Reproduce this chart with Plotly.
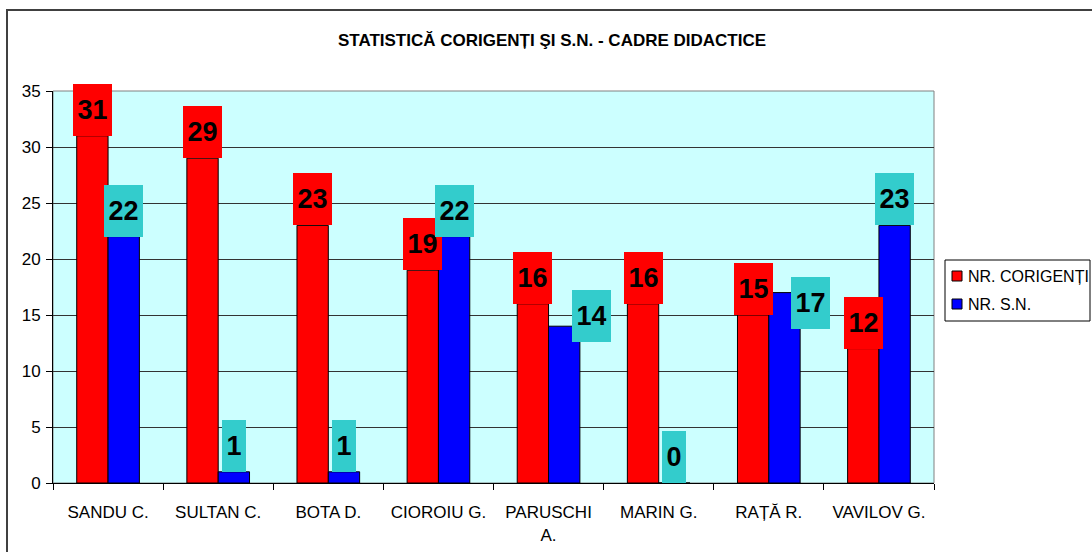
import plotly.graph_objects as go

# ---- data ----
categories = ["SANDU C.", "SULTAN C.", "BOTA D.", "CIOROIU G.", "PARUSCHI<br>A.",
              "MARIN G.", "RAȚĂ R.", "VAVILOV G."]
corigenti = [31, 29, 23, 19, 16, 16, 15, 12]
sn = [22, 1, 1, 22, 14, 0, 17, 23]
series_names = ["NR. CORIGENȚI", "NR. S.N."]
y_ticks = [0, 5, 10, 15, 20, 25, 30, 35]
title_text = "STATISTICĂ CORIGENȚI ŞI S.N. - CADRE DIDACTICE"

# ---- style ----
FONT = "Liberation Sans, Arial, sans-serif"
RED = "#FF0000"
BLUE = "#0000FF"
CYAN_BOX = "#33CCCC"
PLOT_BG = "#CCFFFF"

# label nudges (pixels) where the original chart moved labels to avoid overlap:
# key = (series index, category index) -> (dx, dy)
label_nudge = {(1, 4): (27, -16), (1, 6): (26, -36)}

W, H = 1092, 552
L, R, T, B = 53, W - 934, 91, H - 483
pw, ph = W - L - R, H - T - B


def px2x(px):
    return (px - L) / pw


def px2y(py):
    return (H - B - py) / ph


fig = go.Figure()
fig.add_trace(go.Bar(x=categories, y=corigenti, name=series_names[0],
                     marker=dict(color=RED, line=dict(color="black", width=1)),
                     showlegend=False))
fig.add_trace(go.Bar(x=categories, y=sn, name=series_names[1],
                     marker=dict(color=BLUE, line=dict(color="black", width=1)),
                     showlegend=False))

bargap = 0.431
cat_px = pw / len(categories)
bar_px = cat_px * (1 - bargap) / 2
shift = bar_px / 2

annotations = []
for si, (series, color, sgn) in enumerate(((corigenti, RED, -1), (sn, CYAN_BOX, 1))):
    for ci, (c, v) in enumerate(zip(categories, series)):
        dx, dy = label_nudge.get((si, ci), (0, 0))
        annotations.append(dict(
            x=c, y=v, xref="x", yref="y", text=str(v), showarrow=False,
            xshift=sgn * shift + dx, yshift=dy, yanchor="bottom", xanchor="center",
            font=dict(family=FONT, size=27, color="black", weight="bold"),
            bgcolor=color, borderpad=4.5, borderwidth=0, height=43,
            valign="middle"))

shapes = [
    # outer chart border
    dict(type="rect", xref="paper", yref="paper",
         x0=px2x(7), x1=px2x(1110), y0=px2y(570), y1=px2y(10),
         line=dict(color="#404040", width=2), layer="below"),
    # plot area frame
    dict(type="rect", xref="paper", yref="paper", x0=0, x1=1, y0=0, y1=1,
         line=dict(color="#808080", width=1), layer="below"),
    # legend box
    dict(type="rect", xref="paper", yref="paper",
         x0=px2x(945), x1=px2x(1090), y0=px2y(321), y1=px2y(260),
         line=dict(color="black", width=1), fillcolor="white"),
]
leg_rows = [(series_names[0], RED, 276), (series_names[1], BLUE, 304)]
for name, col, cy in leg_rows:
    shapes.append(dict(type="rect", xref="paper", yref="paper",
                       x0=px2x(952), x1=px2x(962), y0=px2y(cy + 5), y1=px2y(cy - 5),
                       line=dict(color="black", width=1), fillcolor=col))
    annotations.append(dict(x=px2x(966), y=px2y(cy), xref="paper", yref="paper",
                            text=name, showarrow=False, xanchor="left", yanchor="middle",
                            font=dict(family=FONT, size=16, color="black")))

fig.update_layout(
    width=W, height=H,
    margin=dict(l=L, r=R, t=T, b=B, pad=0, autoexpand=False),
    paper_bgcolor="white", plot_bgcolor=PLOT_BG,
    barmode="group", bargap=bargap, bargroupgap=0,
    title=dict(text=title_text, x=552 / W, xanchor="center", y=1 - 40 / H, yanchor="middle",
               font=dict(family=FONT, size=17, color="black", weight="bold")),
    font=dict(family=FONT, size=17, color="black"),
    showlegend=False,
    shapes=shapes,
    annotations=annotations,
)
fig.update_xaxes(
    type="category", showline=True, linecolor="black", linewidth=1,
    ticks="outside", ticklen=6, tickcolor="black", tickson="boundaries",
    tickfont=dict(family=FONT, size=17, color="black"),
    showgrid=False, ticklabelstandoff=14, automargin=False,
)
fig.update_yaxes(
    range=[0, 35], tickvals=y_ticks, showline=True, linecolor="black", linewidth=1,
    ticks="outside", ticklen=6, tickcolor="black",
    tickfont=dict(family=FONT, size=17, color="black"),
    showgrid=True, gridcolor="#333333", gridwidth=1, zeroline=False,
    ticklabelstandoff=2, automargin=False,
)

fig.write_html("out.html", config={"displayModeBar": False},
               post_script="document.body.style.margin='0';document.body.style.overflow='hidden';")
